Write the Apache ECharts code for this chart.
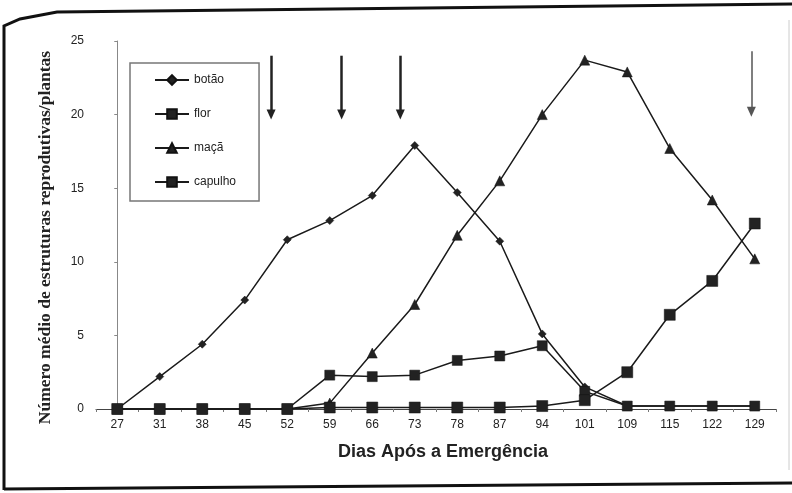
<!DOCTYPE html>
<html>
<head>
<meta charset="utf-8">
<script src="https://cdn.jsdelivr.net/npm/echarts@6/dist/echarts.min.js"></script>
<style>
  html, body { margin: 0; padding: 0; background: #fff; }
  #chart { width: 792px; height: 493px; }
</style>
</head>
<body>
<div id="chart"></div>
<script>
// days after emergence
const dias = ['27', '31', '38', '45', '52', '59', '66', '73', '78', '87', '94', '101', '109', '115', '122', '129'];

const botao   = [0, 2.2, 4.4, 7.4, 11.5, 12.8, 14.5, 17.9, 14.7, 11.4, 5.1, 1.5, 0.2, 0.2, 0.2, 0.2];
const flor    = [0, 0, 0, 0, 0, 2.3, 2.2, 2.3, 3.3, 3.6, 4.3, 1.2, 0.2, 0.2, 0.2, 0.2];
const maca    = [0, 0, 0, 0, 0, 0.4, 3.8, 7.1, 11.8, 15.5, 20.0, 23.7, 22.9, 17.7, 14.2, 10.2];
const capulho = [0, 0, 0, 0, 0, 0.1, 0.1, 0.1, 0.1, 0.1, 0.2, 0.6, 2.5, 6.4, 8.7, 12.6];

// arrows (position in category index units, top and tip values)
const arrowPos = [3.62, 5.28, 6.66, 14.92];
const arrowTop = [24.0, 24.0, 24.0, 24.3];
const arrowTip = [20.0, 20.0, 20.0, 20.2];

const chart = echarts.init(document.getElementById('chart'), null, { renderer: 'canvas' });

const lineCol = '#1a1a1a';
const mkSeries = (name, data, symbol, size) => ({
    name: name,
    type: 'line',
    data: data,
    symbol: symbol,
    symbolSize: size,
    lineStyle: { color: lineCol, width: 1.5 },
    itemStyle: { color: '#222', borderColor: '#111', borderWidth: 0.5 },
    z: 3
});

const arrowLines = arrowPos.map((p, i) => [
    { coord: [p, arrowTop[i]], symbol: 'none' },
    {
        coord: [p, arrowTip[i]], symbol: 'triangle',
        lineStyle: i === 3 ? { color: '#555', width: 1.5 } : { color: '#222', width: 2.5 }
    }
]);

chart.setOption({
    backgroundColor: '#fff',
    animation: false,
    textStyle: { fontFamily: 'Liberation Sans, Arial, sans-serif' },
    grid: { left: 96, right: 16, top: 41, bottom: 84 },
    legend: {
        orient: 'vertical',
        left: 130, top: 63,
        padding: [11, 23, 13, 24],
        itemGap: 22,
        itemWidth: 34,
        itemHeight: 12,
        borderColor: '#777',
        borderWidth: 1.5,
        textStyle: { fontSize: 12, color: '#222' },
        data: ['botão', 'flor', 'maçã', 'capulho']
    },
    xAxis: [
        {
            type: 'category',
            data: dias,
            boundaryGap: true,
            name: 'Dias Após a Emergência',
            nameLocation: 'middle',
            nameGap: 34,
            nameTextStyle: { fontSize: 18, fontWeight: 'bold', color: '#222', padding: [0, 0, 0, 14] },
            axisLine: { lineStyle: { color: '#444', width: 1 } },
            axisTick: { show: true, length: 3, lineStyle: { color: '#777' } },
            axisLabel: { fontSize: 12, color: '#222', margin: 10 }
        },
        {
            type: 'value',
            min: -0.5, max: 15.5,
            show: false
        }
    ],
    yAxis: {
        type: 'value',
        min: 0, max: 25, interval: 5,
        name: 'Número médio de estruturas reprodutivas/plantas',
        nameLocation: 'middle',
        nameGap: 42,
        nameTextStyle: {
            fontFamily: 'Liberation Serif, serif',
            fontSize: 17.5, fontWeight: 'bold', color: '#222',
            padding: [0, 25, 0, 0]
        },
        axisLine: { show: true, lineStyle: { color: '#888', width: 1 } },
        axisTick: { show: true, length: 3, lineStyle: { color: '#888' } },
        axisLabel: { fontSize: 12, color: '#222', margin: 12 },
        splitLine: { show: false }
    },
    series: [
        mkSeries('botão', botao, 'diamond', 8),
        mkSeries('flor', flor, 'rect', 10),
        mkSeries('maçã', maca, 'triangle', 10),
        mkSeries('capulho', capulho, 'rect', 11),
        {
            type: 'scatter',
            xAxisIndex: 1,
            data: [],
            silent: true,
            markLine: {
                silent: true,
                symbolSize: [9, 10],
                label: { show: false },
                lineStyle: { type: 'solid', color: '#222', width: 2.5 },
                data: arrowLines
            }
        }
    ],
    graphic: [
        {
            type: 'polyline',
            shape: { points: [[4, 490], [4, 26], [20, 19], [57, 12], [792, 4]] },
            style: { stroke: '#111', lineWidth: 3, fill: null },
            silent: true
        },
        {
            type: 'line',
            shape: { x1: 4, y1: 489, x2: 792, y2: 483 },
            style: { stroke: '#111', lineWidth: 3 },
            silent: true
        },
        {
            type: 'line',
            shape: { x1: 789, y1: 20, x2: 789, y2: 470 },
            style: { stroke: '#ccc', lineWidth: 1 },
            silent: true
        }
    ]
});
</script>
</body>
</html>
